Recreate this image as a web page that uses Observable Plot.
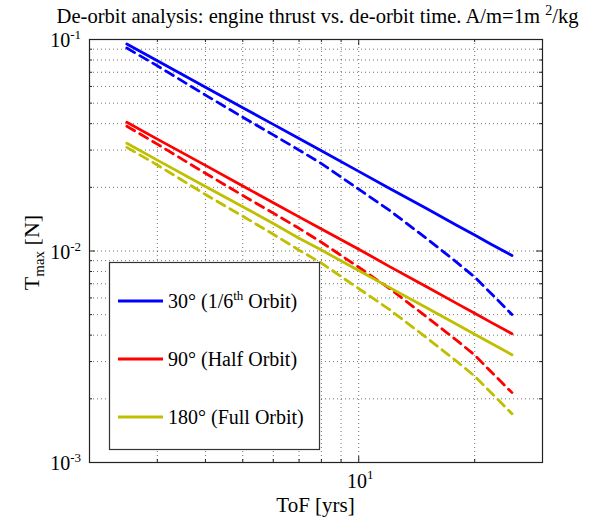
<!DOCTYPE html>
<html><head><meta charset="utf-8">
<script src="https://cdn.jsdelivr.net/npm/d3@7"></script>
<script src="https://cdn.jsdelivr.net/npm/@observablehq/plot@0.6"></script>
<style>body{margin:0;background:#fff;} svg{display:block;}</style>
</head><body><div id="chart"></div>
<script>
// ---- data ----
const tof = [2.5, 3, 4, 5, 6, 7, 8, 10, 12, 15, 18, 20, 22, 25];
const blueSolid    = [0.0952, 0.0793, 0.0595, 0.0476, 0.0397, 0.0340, 0.0298, 0.0238, 0.0198, 0.0159, 0.0132, 0.0119, 0.0108, 0.00952];
const blueDashed   = [0.0911, 0.0751, 0.0546, 0.0429, 0.0354, 0.0300, 0.0259, 0.0196, 0.0156, 0.01146, 0.00882, 0.00753, 0.00633, 0.00501];
const redSolid     = [0.0406, 0.0338, 0.0254, 0.0203, 0.0169, 0.0145, 0.0127, 0.0102, 0.00846, 0.00677, 0.00564, 0.00508, 0.00461, 0.00406];
const redDashed    = [0.0389, 0.0320, 0.0233, 0.0183, 0.0151, 0.0128, 0.0110, 0.00838, 0.00666, 0.00488, 0.00377, 0.00322, 0.00270, 0.00214];
const yellowSolid  = [0.0323, 0.0269, 0.0202, 0.0162, 0.0135, 0.0115, 0.0101, 0.00808, 0.00673, 0.00539, 0.00449, 0.00404, 0.00367, 0.00323];
const yellowDashed = [0.0309, 0.0255, 0.0185, 0.0146, 0.0120, 0.0101, 0.00877, 0.00664, 0.00530, 0.00389, 0.00300, 0.00256, 0.00215, 0.00170];

const seriesLabels = [["30° (1/6", "th", " Orbit)"], ["90° (Half Orbit)"], ["180° (Full Orbit)"]];
const seriesColors = ["#0000ff", "#ff0000", "#bfbf00"];

const xMajorTicks = [10];
const xMinorTicks = [2, 3, 4, 5, 6, 7, 8, 9, 20, 30];
const yMajorTicks = [0.001, 0.01, 0.1];
const yMinorTicks = [0.002, 0.003, 0.004, 0.005, 0.006, 0.007, 0.008, 0.009, 0.02, 0.03, 0.04, 0.05, 0.06, 0.07, 0.08, 0.09];
const xGrid = [3, 4, 5, 6, 7, 8, 9, 10, 20];
const yGrid = [0.002, 0.003, 0.004, 0.005, 0.006, 0.007, 0.008, 0.009, 0.01, 0.02, 0.03, 0.04, 0.05, 0.06, 0.07, 0.08, 0.09];
const xTickLabels = [["10", "1"]];
const yTickLabels = [["10", "-3"], ["10", "-2"], ["10", "-1"]];

const titleParts = ["De-orbit analysis: engine thrust vs. de-orbit time. A/m=1m ", "2", "/kg"];
const xLabel = "ToF [yrs]";
const yLabelParts = ["T", "max", " [N]"];

// ---- build table ----
const solids = [blueSolid, redSolid, yellowSolid];
const dashes = [blueDashed, redDashed, yellowDashed];
const rows = [];
for (let i = 0; i < 3; i++) {
  tof.forEach((t, j) => {
    rows.push({tof: t, T: solids[i][j], series: i, kind: "solid"});
    rows.push({tof: t, T: dashes[i][j], series: i, kind: "dashed"});
  });
}

const W = 593, H = 521, mL = 89, mR = 51, mT = 39, mB = 59;
const innerH = H - mT - mB, innerW = W - mL - mR;
const font = "'Liberation Serif', 'Times New Roman', serif";

const lineMarks = [];
for (let i = 0; i < 3; i++) {
  lineMarks.push(Plot.line(rows.filter(d => d.series === i && d.kind === "dashed"),
    {x: "tof", y: "T", stroke: seriesColors[i], strokeWidth: 2.8, strokeDasharray: "9,6"}));
  lineMarks.push(Plot.line(rows.filter(d => d.series === i && d.kind === "solid"),
    {x: "tof", y: "T", stroke: seriesColors[i], strokeWidth: 2.8}));
}

const svg = Plot.plot({
  width: W, height: H,
  marginLeft: mL, marginRight: mR, marginTop: mT, marginBottom: mB,
  style: {fontFamily: font, background: "#fff", overflow: "visible"},
  x: {type: "log", domain: [2, 30], axis: null},
  y: {type: "log", domain: [0.001, 0.1], axis: null},
  marks: [
    Plot.ruleX(xGrid, {x: d => d, stroke: "#000", strokeOpacity: 0.55, strokeDasharray: "1,3"}),
    Plot.ruleY(yGrid, {y: d => d, stroke: "#000", strokeOpacity: 0.55, strokeDasharray: "1,3"}),
    Plot.tickX(xMinorTicks, {x: d => d, insetTop: innerH - 3, stroke: "#222"}),
    Plot.tickX(xMinorTicks, {x: d => d, insetBottom: innerH - 3, stroke: "#222"}),
    Plot.tickX(xMajorTicks, {x: d => d, insetTop: innerH - 6, stroke: "#222"}),
    Plot.tickX(xMajorTicks, {x: d => d, insetBottom: innerH - 6, stroke: "#222"}),
    Plot.tickY(yMinorTicks, {y: d => d, insetRight: innerW - 3, stroke: "#222"}),
    Plot.tickY(yMinorTicks, {y: d => d, insetLeft: innerW - 3, stroke: "#222"}),
    Plot.tickY(yMajorTicks, {y: d => d, insetRight: innerW - 6, stroke: "#222"}),
    Plot.tickY(yMajorTicks, {y: d => d, insetLeft: innerW - 6, stroke: "#222"}),
    ...lineMarks,
    Plot.frame({stroke: "#222", strokeWidth: 1.2})
  ]
});

document.getElementById("chart").appendChild(svg);
const sx = svg.scale("x"), sy = svg.scale("y");
const s = d3.select(svg);
const g = s.append("g").attr("font-family", font).attr("fill", "#000");

// y tick labels
yMajorTicks.forEach((v, i) => {
  const t = g.append("text").attr("x", 81).attr("y", sy.apply(v) + 8)
    .attr("text-anchor", "end").attr("font-size", 20);
  t.append("tspan").text(yTickLabels[i][0]);
  t.append("tspan").attr("dy", -8).attr("font-size", 13).text(yTickLabels[i][1]);
});
// x tick labels
xMajorTicks.forEach((v, i) => {
  const t = g.append("text").attr("x", sx.apply(v) + 2).attr("y", H - mB + 26)
    .attr("text-anchor", "middle").attr("font-size", 20);
  t.append("tspan").text(xTickLabels[i][0]);
  t.append("tspan").attr("dy", -9).attr("font-size", 13).text(xTickLabels[i][1]);
});
// axis labels
g.append("text").attr("x", mL + innerW / 2).attr("y", 512)
  .attr("text-anchor", "middle").attr("font-size", 21).text(xLabel);
const yl = g.append("text").attr("transform", `translate(39,${mT + innerH / 2 + 2}) rotate(-90)`)
  .attr("text-anchor", "middle").attr("font-size", 22);
yl.append("tspan").text(yLabelParts[0]);
yl.append("tspan").attr("dy", 5).attr("font-size", 15).text(yLabelParts[1]);
yl.append("tspan").attr("dy", -5).text(yLabelParts[2]);
// title
const tt = g.append("text").attr("x", mL + innerW / 2 + 2).attr("y", 23)
  .attr("text-anchor", "middle").attr("font-size", 20.6);
tt.append("tspan").text(titleParts[0]);
tt.append("tspan").attr("dy", -8).attr("font-size", 14).text(titleParts[1]);
tt.append("tspan").attr("dy", 8).text(titleParts[2]);

// legend
const lg = s.append("g").attr("font-family", font).attr("text-anchor", "start");
lg.append("rect").attr("x", 109.5).attr("y", 262.5).attr("width", 210).attr("height", 187)
  .attr("fill", "#fff").attr("stroke", "#333").attr("stroke-width", 1.2);
const rowY = [301, 359, 417];
seriesLabels.forEach((parts, i) => {
  lg.append("line").attr("x1", 118).attr("x2", 163).attr("y1", rowY[i]).attr("y2", rowY[i])
    .attr("stroke", seriesColors[i]).attr("stroke-width", 2.8);
  const t = lg.append("text").attr("x", 168).attr("y", rowY[i] + 7).attr("font-size", 20)
    .attr("fill", "#000").attr("text-anchor", "start");
  t.append("tspan").text(parts[0]);
  if (parts.length > 1) {
    t.append("tspan").attr("dy", -8).attr("font-size", 13).text(parts[1]);
    t.append("tspan").attr("dy", 8).text(parts[2]);
  }
});
</script></body></html>
